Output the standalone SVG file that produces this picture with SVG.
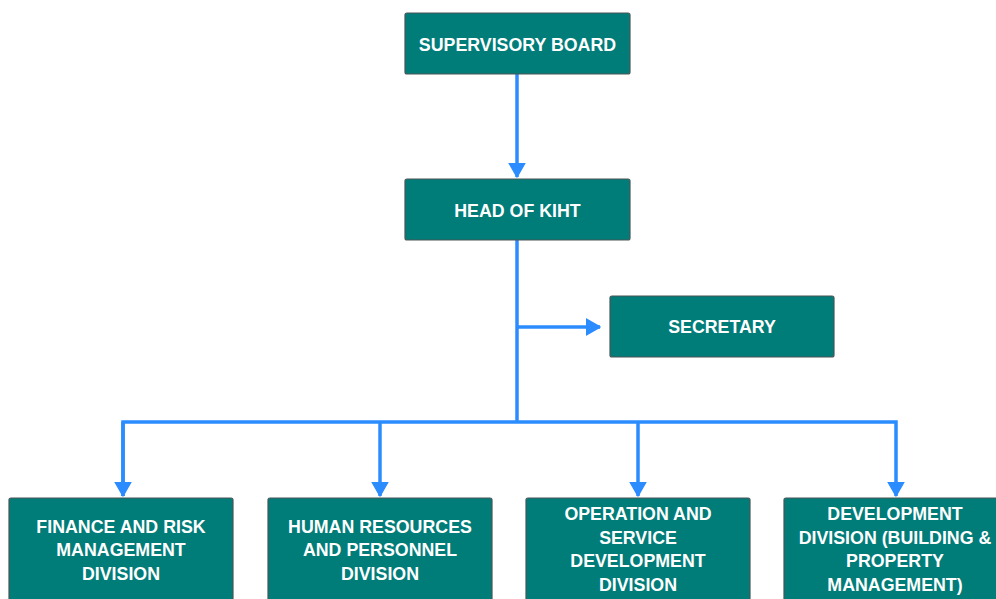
<svg xmlns="http://www.w3.org/2000/svg" width="996" height="599" viewBox="0 0 996 599">
<style>
.box{fill:#007c79;stroke:#4a5556;stroke-width:1.2}
.t{font-family:"Liberation Sans",Arial,sans-serif;font-weight:bold;font-size:17.8px;fill:#ffffff;text-anchor:middle}
.c{stroke:#2b8cff;stroke-width:3.5;fill:none}
</style>
<defs>
<marker id="ah" markerUnits="userSpaceOnUse" markerWidth="18" markerHeight="20" refX="14" refY="9" orient="auto">
<path d="M0,1 L14,9 L0,17 Z" fill="#2b8cff" stroke="#2b8cff" stroke-width="1.5" stroke-linejoin="round"/>
</marker>
</defs>
<rect width="996" height="599" fill="#ffffff"/>
<g id="connectors">
<line class="c" x1="517" y1="74" x2="517" y2="177" marker-end="url(#ah)"/>
<line class="c" x1="517" y1="240" x2="517" y2="422"/>
<line class="c" x1="517" y1="327" x2="600" y2="327" marker-end="url(#ah)"/>
<polyline class="c" points="123,496 123,422 896,422 896,496" marker-end="url(#ah)"/>
<line class="c" x1="123" y1="422" x2="123" y2="496" marker-end="url(#ah)"/>
<line class="c" x1="380" y1="422" x2="380" y2="496" marker-end="url(#ah)"/>
<line class="c" x1="638" y1="422" x2="638" y2="496" marker-end="url(#ah)"/>
</g>
<g id="supervisory-board">
<rect class="box" x="405" y="13" width="225" height="61" rx="2"/>
<text class="t" x="517.5" y="51">SUPERVISORY BOARD</text>
</g>
<g id="head-of-kiht">
<rect class="box" x="405" y="179" width="225" height="61" rx="2"/>
<text class="t" x="517.5" y="217">HEAD OF KIHT</text>
</g>
<g id="secretary">
<rect class="box" x="610" y="296" width="224" height="61" rx="2"/>
<text class="t" x="722" y="333">SECRETARY</text>
</g>
<g id="finance">
<rect class="box" x="9" y="498" width="224" height="110" rx="2"/>
<text class="t" x="121" y="533">FINANCE AND RISK</text>
<text class="t" x="121" y="556">MANAGEMENT</text>
<text class="t" x="121" y="580">DIVISION</text>
</g>
<g id="human-resources">
<rect class="box" x="268" y="498" width="224" height="110" rx="2"/>
<text class="t" x="380" y="533">HUMAN RESOURCES</text>
<text class="t" x="380" y="556">AND PERSONNEL</text>
<text class="t" x="380" y="580">DIVISION</text>
</g>
<g id="operation">
<rect class="box" x="526" y="498" width="224" height="110" rx="2"/>
<text class="t" x="638" y="520">OPERATION AND</text>
<text class="t" x="638" y="544">SERVICE</text>
<text class="t" x="638" y="567">DEVELOPMENT</text>
<text class="t" x="638" y="591">DIVISION</text>
</g>
<g id="development">
<rect class="box" x="784" y="498" width="224" height="110" rx="2"/>
<text class="t" x="895" y="520">DEVELOPMENT</text>
<text class="t" x="895" y="544">DIVISION (BUILDING &amp;</text>
<text class="t" x="895" y="567">PROPERTY</text>
<text class="t" x="895" y="591">MANAGEMENT)</text>
</g>
</svg>
